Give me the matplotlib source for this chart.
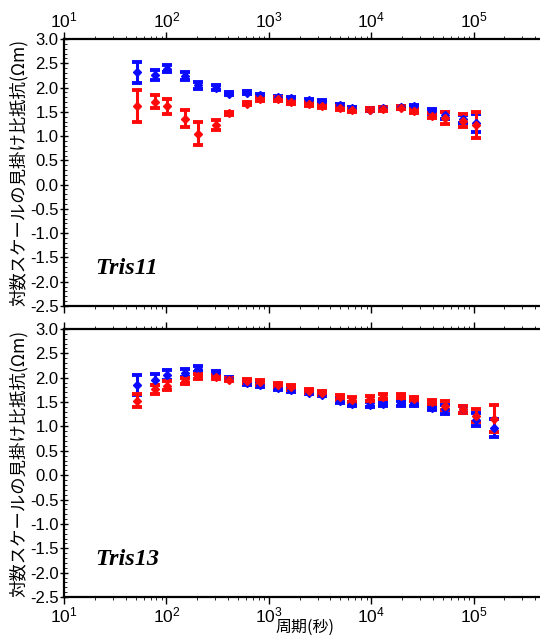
import numpy as np
import matplotlib
matplotlib.use("Agg")
import matplotlib.pyplot as plt
import matplotlib.ticker as ticker

# ── Data ──────────────────────────────────────────────────────────────────────

periods = [51.2, 76.8, 102.4, 153.6, 204.8, 307.2, 409.6, 614.4, 819.2,
           1228.8, 1638.4, 2457.6, 3276.8, 4915.2, 6553.6, 9830.4, 13107.2,
           19660.8, 26214.4, 39321.6, 52428.8, 78643.2, 104857.6, 157286.4]

# Tris11 (23 periods)
t11_blue = [2.31, 2.26, 2.39, 2.23, 2.05, 2.00, 1.87, 1.89, 1.84, 1.80, 1.78, 1.74,
            1.71, 1.64, 1.57, 1.54, 1.57, 1.59, 1.61, 1.51, 1.43, 1.35, 1.27]
t11_blue_err = [0.22, 0.10, 0.08, 0.08, 0.07, 0.06, 0.03, 0.03, 0.03, 0.03, 0.03, 0.03,
                0.03, 0.03, 0.03, 0.03, 0.03, 0.03, 0.04, 0.05, 0.07, 0.08, 0.18]
t11_red = [1.61, 1.71, 1.61, 1.36, 1.05, 1.23, 1.47, 1.67, 1.76, 1.76, 1.71, 1.66,
           1.61, 1.57, 1.53, 1.54, 1.56, 1.58, 1.51, 1.42, 1.37, 1.32, 1.23]
t11_red_err = [0.33, 0.13, 0.16, 0.18, 0.24, 0.11, 0.03, 0.03, 0.04, 0.04, 0.04, 0.04,
               0.04, 0.04, 0.03, 0.03, 0.04, 0.03, 0.04, 0.05, 0.12, 0.13, 0.27]

# Tris13 (24 periods)
t13_blue = [1.85, 1.96, 2.06, 2.10, 2.18, 2.10, 1.98, 1.89, 1.85, 1.78, 1.74, 1.69,
            1.65, 1.53, 1.46, 1.45, 1.46, 1.48, 1.48, 1.38, 1.35, 1.35, 1.14, 0.97]
t13_blue_err = [0.20, 0.11, 0.10, 0.08, 0.06, 0.04, 0.03, 0.03, 0.04, 0.03, 0.03, 0.03,
                0.03, 0.04, 0.04, 0.05, 0.05, 0.05, 0.05, 0.05, 0.09, 0.07, 0.14, 0.18]
t13_red = [1.53, 1.76, 1.84, 1.93, 2.03, 2.02, 1.96, 1.93, 1.91, 1.85, 1.80, 1.73,
           1.69, 1.60, 1.55, 1.57, 1.61, 1.62, 1.57, 1.50, 1.43, 1.35, 1.22, 1.16]
t13_red_err = [0.13, 0.09, 0.09, 0.06, 0.05, 0.04, 0.03, 0.04, 0.05, 0.05, 0.05, 0.04,
               0.04, 0.05, 0.05, 0.05, 0.05, 0.04, 0.04, 0.04, 0.09, 0.07, 0.13, 0.28]

BLUE = "#0a0aff"
RED = "#ff0a0a"
JP = ["Noto Sans CJK JP", "DejaVu Sans"]
YLABEL = "対数スケールの見掛け比抵抗(Ωm)"

plt.rcParams["font.family"] = ["Liberation Sans", "DejaVu Sans"]
plt.rcParams["mathtext.fontset"] = "custom"
plt.rcParams["mathtext.rm"] = "Liberation Sans"

# the plot area runs off the right edge of the picture (10^1 .. ~10^5.65)
X_MAX = 10 ** (1 + 476 / 102.4)


def draw_panel(ax, blue, blue_err, red, red_err, name, labels_top):
    n_b, n_r = len(blue), len(red)
    for y, e, c, n in [(blue, blue_err, BLUE, n_b), (red, red_err, RED, n_r)]:
        ax.errorbar(periods[:n], y, yerr=e, fmt="D", color=c, ms=4.5,
                    elinewidth=2.2, capsize=3.9, capthick=2.8, zorder=3)

    ax.set_xscale("log")
    ax.set_xlim(10, X_MAX)
    ax.set_ylim(-2.5, 3.0)
    ax.yaxis.set_major_locator(ticker.MultipleLocator(0.5))
    ax.yaxis.set_minor_locator(ticker.MultipleLocator(0.1))
    ax.yaxis.set_major_formatter(ticker.FormatStrFormatter("%.1f"))
    ax.xaxis.set_minor_locator(ticker.LogLocator(base=10, subs=np.arange(2, 10), numticks=20))

    for s in ["left", "top", "bottom"]:
        ax.spines[s].set_linewidth(1.6)
    ax.spines["right"].set_visible(False)

    ax.tick_params(axis="y", which="major", direction="inout", length=6, width=1, labelsize=12, pad=1)
    ax.tick_params(axis="y", which="minor", direction="in", length=2.5, width=0.6)
    ax.tick_params(axis="x", which="major", direction="out", length=5, width=1,
                   top=True, bottom=True, labeltop=labels_top, labelbottom=not labels_top,
                   labelsize=12.5, pad=1)
    ax.tick_params(axis="x", which="minor", direction="out", length=2.5, width=0.6,
                   top=True, bottom=True)

    ax.set_ylabel(YLABEL, family=JP, fontsize=12.5)
    ax.yaxis.set_label_coords(-0.075, 0.5)
    ax.text(0.066, 0.14, name, transform=ax.transAxes, family="Liberation Serif",
            fontsize=17.5, fontweight="bold", fontstyle="italic", va="center", ha="left")


fig = plt.figure(figsize=(5.4, 6.37), dpi=100)
W, H = 540, 637
left, width = 64 / W, 476 / W
ax1 = fig.add_axes([left, (H - 306) / H, width, 267 / H])
ax2 = fig.add_axes([left, (H - 597) / H, width, 268 / H])

draw_panel(ax1, t11_blue, t11_blue_err, t11_red, t11_red_err, "Tris11", True)
draw_panel(ax2, t13_blue, t13_blue_err, t13_red, t13_red_err, "Tris13", False)

fig.text(305 / W, (H - 627) / H, "周期(秒)", family=JP, fontsize=11.5, ha="center", va="center")

fig.savefig("out.png", dpi=100)
